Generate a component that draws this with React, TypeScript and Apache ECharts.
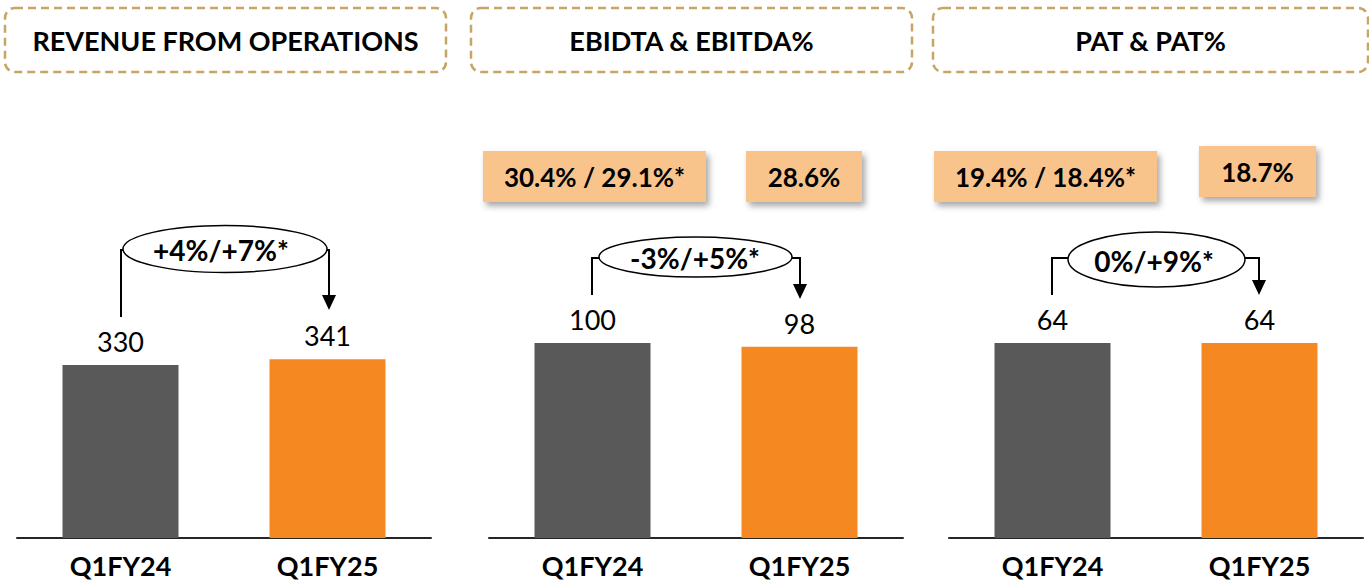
import React, { useEffect, useRef } from "react";
import * as echarts from "echarts";

const categories = ["Q1FY24", "Q1FY25"];
const revenue = [330, 341];
const ebitda = [100, 98];
const pat = [64, 64];
const panelTitles = ["REVENUE FROM OPERATIONS", "EBIDTA & EBITDA%", "PAT & PAT%"];
const ebitdaMargins = ["30.4% / 29.1%*", "28.6%"];
const patMargins = ["19.4% / 18.4%*", "18.7%"];
const growthLabels = ["+4%/+7%*", "-3%/+5%*", "0%/+9%*"];

const FONT = "Lato, 'Open Sans', sans-serif";
const GREY = "#595959";
const ORANGE = "#F58820";
const BOX = "#F8C48C";
const DASH = "#C6A566";

export default function App() {
  const ref = useRef<HTMLDivElement>(null);
  useEffect(() => {
    document.body.style.margin = "0";
    const chart = echarts.init(ref.current!, null, { renderer: "svg" });
    const grids = [
      { left: 17, width: 414, top: 238, height: 300 },
      { left: 489, width: 414, top: 238, height: 300 },
      { left: 949, width: 414, top: 238, height: 300 },
    ];
    const maxes = [572, 153.8, 98.5];
    const datasets = [revenue, ebitda, pat];

    const xAxis = grids.map((_, i) => ({
      type: "category",
      gridIndex: i,
      data: categories,
      axisTick: { show: false },
      axisLine: { lineStyle: { color: "#262626", width: 2 } },
      axisLabel: {
        color: "#000",
        fontFamily: FONT,
        fontWeight: "bold",
        fontSize: 27,
        margin: 14,
      },
    }));
    const yAxis = grids.map((_, i) => ({
      type: "value",
      gridIndex: i,
      min: 0,
      max: maxes[i],
      show: false,
      splitLine: { show: false },
    }));
    const series = datasets.map((d, i) => ({
      type: "bar",
      xAxisIndex: i,
      yAxisIndex: i,
      barWidth: 116,
      data: d.map((v, j) => ({ value: v, itemStyle: { color: j === 0 ? GREY : ORANGE } })),
      label: {
        show: true,
        position: "top",
        distance: 10,
        color: "#000",
        fontFamily: FONT,
        fontSize: 27,
      },
    }));

    const headerBoxes = [
      { x: 5, w: 441 },
      { x: 471, w: 441 },
      { x: 933, w: 435 },
    ];
    const graphics: any[] = [];
    headerBoxes.forEach((b, i) => {
      graphics.push({
        type: "rect",
        shape: { x: b.x, y: 8, width: b.w, height: 64, r: 10 },
        style: { fill: "none", stroke: DASH, lineWidth: 2.5, lineDash: [8, 5] },
      });
      graphics.push({
        type: "text",
        x: b.x + b.w / 2,
        y: 40,
        style: {
          text: panelTitles[i],
          fill: "#000",
          font: `bold 27px ${FONT}`,
          textAlign: "center",
          textVerticalAlign: "middle",
        },
      });
    });

    const marginBoxes = [
      { x: 483, y: 151, w: 223, h: 51, t: ebitdaMargins[0] },
      { x: 746, y: 151, w: 116, h: 51, t: ebitdaMargins[1] },
      { x: 934, y: 151, w: 223, h: 51, t: patMargins[0] },
      { x: 1199, y: 146, w: 117, h: 51, t: patMargins[1] },
    ];
    marginBoxes.forEach((b) => {
      graphics.push({
        type: "rect",
        shape: { x: b.x, y: b.y, width: b.w, height: b.h },
        style: {
          fill: BOX,
          shadowBlur: 6,
          shadowOffsetX: 3,
          shadowOffsetY: 4,
          shadowColor: "rgba(0,0,0,0.35)",
        },
      });
      graphics.push({
        type: "text",
        x: b.x + b.w / 2,
        y: b.y + b.h / 2,
        style: {
          text: b.t,
          fill: "#000",
          font: `bold 26px ${FONT}`,
          textAlign: "center",
          textVerticalAlign: "middle",
        },
      });
    });

    const ellipses = [
      { cx: 225, cy: 249, tx: 221, rx: 102, ry: 23.5, left: [[121, 317], [121, 250], [123, 250]], right: [[327, 250], [329, 250], [329, 296]], arrow: [[322, 295], [336, 295], [329, 310]] },
      { cx: 695.5, cy: 257, tx: 695, rx: 96.5, ry: 20, left: [[592, 295], [592, 258], [599, 258]], right: [[792, 258], [800, 258], [800, 285]], arrow: [[793, 284], [807, 284], [800, 299]] },
      { cx: 1156.5, cy: 259.5, tx: 1154, rx: 88.5, ry: 27.5, left: [[1052, 295], [1052, 258], [1068, 258]], right: [[1245, 258], [1259, 258], [1259, 281]], arrow: [[1252, 280], [1266, 280], [1259, 295]] },
    ];
    ellipses.forEach((e, i) => {
      graphics.push({
        type: "polyline",
        shape: { points: e.left },
        style: { stroke: "#000", lineWidth: 2, fill: "none" },
      });
      graphics.push({
        type: "polyline",
        shape: { points: e.right },
        style: { stroke: "#000", lineWidth: 2, fill: "none" },
      });
      graphics.push({
        type: "polygon",
        shape: { points: e.arrow },
        style: { fill: "#000" },
      });
      graphics.push({
        type: "ellipse",
        shape: { cx: e.cx, cy: e.cy, rx: e.rx, ry: e.ry },
        style: { fill: "#fff", stroke: "#000", lineWidth: 1.5 },
      });
      graphics.push({
        type: "text",
        x: e.tx,
        y: e.cy + 1,
        style: {
          text: growthLabels[i],
          fill: "#000",
          font: `bold 28px ${FONT}`,
          textAlign: "center",
          textVerticalAlign: "middle",
        },
      });
    });

    chart.setOption({
      animation: false,
      backgroundColor: "#fff",
      grid: grids,
      xAxis,
      yAxis,
      series,
      graphic: graphics,
    });
    return () => chart.dispose();
  }, []);
  return <div ref={ref} style={{ width: 1369, height: 585 }} />;
}
